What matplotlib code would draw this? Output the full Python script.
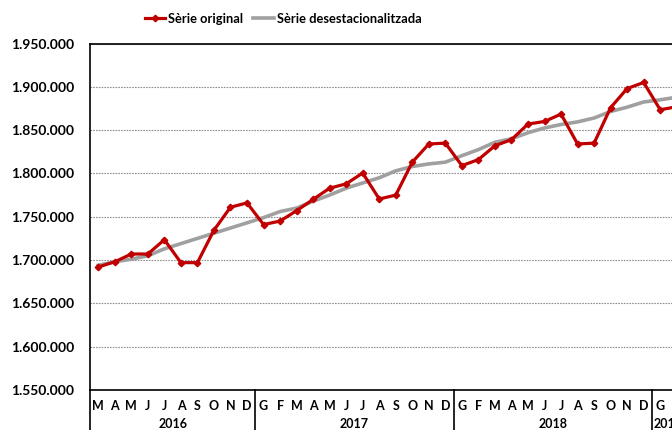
import matplotlib.pyplot as plt
import numpy as np
from matplotlib.ticker import FuncFormatter
import matplotlib.transforms as mtransforms

plt.rcParams['font.family'] = ['Lato', 'DejaVu Sans']
plt.rcParams['font.weight'] = 'bold'

# months from March 2016 to February 2019
month_labels = ['M', 'A', 'M', 'J', 'J', 'A', 'S', 'O', 'N', 'D',
                'G', 'F', 'M', 'A', 'M', 'J', 'J', 'A', 'S', 'O', 'N', 'D',
                'G', 'F', 'M', 'A', 'M', 'J', 'J', 'A', 'S', 'O', 'N', 'D',
                'G', 'F']
years = ['2016', '2017', '2018', '2019']
year_months = [10, 12, 12, 2]

serie_original = [1692000, 1698000, 1707000, 1707000, 1723500, 1697000, 1697000, 1734500, 1761000, 1766000,
                  1741000, 1745000, 1757000, 1770000, 1783000, 1788000, 1800500, 1770500, 1775000, 1813000, 1834000, 1835000,
                  1809000, 1816000, 1832000, 1839000, 1857000, 1860000, 1868500, 1834000, 1835000, 1876000, 1898000, 1905000,
                  1873500, 1877000]
serie_desest = [1694000, 1698000, 1701000, 1705000, 1713000, 1719000, 1725000, 1731000, 1737000, 1743000,
                1749000, 1756000, 1760000, 1768000, 1775000, 1783000, 1789000, 1795000, 1803000, 1808000, 1811000, 1813000,
                1820500, 1827500, 1836000, 1840000, 1847000, 1852500, 1856500, 1859500, 1864000, 1871500, 1876500, 1882500,
                1885000, 1888000]

x = np.arange(len(month_labels))

fig = plt.figure(figsize=(6.72, 4.30), dpi=100)
ax = fig.add_axes([90 / 672, 40 / 430, 595 / 672, 346.5 / 430])

ax.plot(x, serie_desest, color='#A0A0A0', lw=2.6, label='Sèrie desestacionalitzada', zorder=3)
ax.plot(x, serie_original, color='#C00000', lw=2.3, marker='D', ms=3.3,
        label='Sèrie original', zorder=4)

ax.set_xlim(-0.5, len(month_labels) - 0.5)
ax.set_ylim(1550000, 1950000)
ax.set_yticks(np.arange(1550000, 1950001, 50000))
ax.yaxis.set_major_formatter(FuncFormatter(lambda v, p: f'{int(v):,}'.replace(',', '.')))
ax.tick_params(axis='y', length=0, pad=11.5, labelsize=10)
ax.set_xticks([])
ax.grid(axis='y', color='#909090', linestyle=(0, (1.5, 1)), lw=0.8)
for s in ['left', 'bottom', 'top']:
    ax.spines[s].set_linewidth(1.2)
ax.spines['right'].set_visible(False)

trans = mtransforms.blended_transform_factory(ax.transData, ax.transAxes)
for i, m in enumerate(month_labels):
    ax.text(x[i], -0.045, m, transform=trans, ha='center', va='center', fontsize=9)

start = -0.5
for yr, n in zip(years, year_months):
    mid = start + n / 2
    ax.text(mid, -0.097, yr, transform=trans, ha='center', va='center', fontsize=9, clip_on=False)
    ax.plot([start, start], [0, -0.12], transform=trans, color='black', lw=1.2, clip_on=False)
    start += n

h, l = ax.get_legend_handles_labels()
fig.legend(h[::-1], l[::-1], loc='center', bbox_to_anchor=(0.421, 0.956), ncol=2, frameon=False,
           prop={'family': ['Lato', 'DejaVu Sans'], 'weight': 'bold', 'size': 9.3},
           handlelength=1.6, handletextpad=0.2, columnspacing=0.8)

fig.savefig('out.png', dpi=100)
